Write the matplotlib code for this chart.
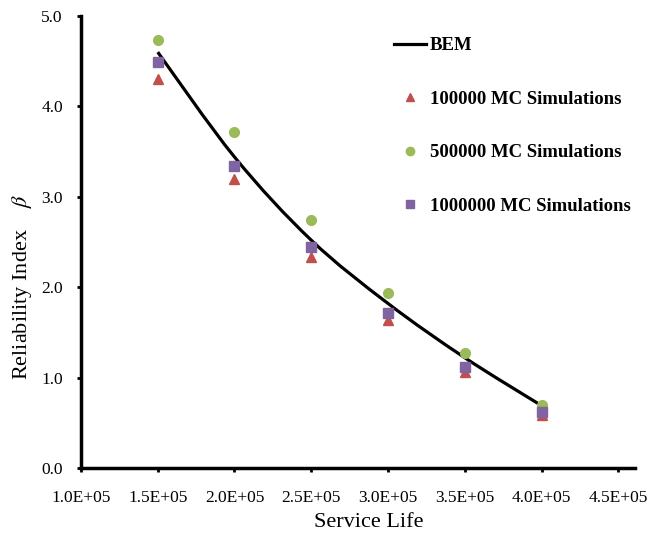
import numpy as np
import matplotlib
matplotlib.use('Agg')
import matplotlib.pyplot as plt
from matplotlib.path import Path
from matplotlib.patches import PathPatch
from matplotlib.lines import Line2D

plt.rcParams['font.family'] = ['Liberation Serif', 'DejaVu Serif']
plt.rcParams['mathtext.fontset'] = 'stix'

# data
life = [1.5e5, 2.0e5, 2.5e5, 3.0e5, 3.5e5, 4.0e5]
bem = [4.60, 3.44, 2.52, 1.82, 1.22, 0.69]
mc_100k = [4.30, 3.20, 2.33, 1.64, 1.06, 0.59]
mc_500k = [4.73, 3.72, 2.74, 1.94, 1.27, 0.70]
mc_1m = [4.49, 3.34, 2.44, 1.72, 1.12, 0.62]

xticks = [1.0e5, 1.5e5, 2.0e5, 2.5e5, 3.0e5, 3.5e5, 4.0e5, 4.5e5]
xtick_labels = ['1.0E+05', '1.5E+05', '2.0E+05', '2.5E+05', '3.0E+05', '3.5E+05', '4.0E+05', '4.5E+05']
yticks = [0.0, 1.0, 2.0, 3.0, 4.0, 5.0]

red, green, purple = '#C0504D', '#9BBB59', '#8064A2'

fig = plt.figure(figsize=(6.52, 5.35), dpi=100)
ax = fig.add_axes([0.1242, 0.1252, 0.850, 0.845])

# smooth line through the BEM points (Catmull-Rom as bezier segments)
pts = np.column_stack([life, bem])
verts = [pts[0]]
codes = [Path.MOVETO]
n = len(pts)
for i in range(n - 1):
    p0 = pts[max(i - 1, 0)]
    p1 = pts[i]
    p2 = pts[i + 1]
    p3 = pts[min(i + 2, n - 1)]
    c1 = p1 + (p2 - p0) / 6.0
    c2 = p2 - (p3 - p1) / 6.0
    verts += [c1, c2, p2]
    codes += [Path.CURVE4] * 3
ax.add_patch(PathPatch(Path(verts, codes), fill=False, color='black', lw=2.3, zorder=2))

ax.plot(life, mc_100k, '^', color=red, ms=7, mec=red, zorder=3)
ax.plot(life, mc_500k, 'o', color=green, ms=7, mec=green, zorder=3)
ax.plot(life, mc_1m, 's', color=purple, ms=7, mec=purple, zorder=4)

ax.set_xlim(1.0e5, 4.61e5)
ax.set_ylim(0, 5.0)
ax.set_xticks(xticks)
ax.set_xticklabels(xtick_labels)
ax.set_yticks(yticks)
ax.set_yticklabels([f'{v:.1f}' for v in yticks])
ax.tick_params(direction='out', length=3, width=2, labelsize=12.5)
ax.tick_params(axis='x', pad=13)
ax.tick_params(axis='y', pad=10)

for s in ['top', 'right']:
    ax.spines[s].set_visible(False)
for s in ['left', 'bottom']:
    ax.spines[s].set_linewidth(2.5)

ax.set_xlabel('Service Life', fontsize=16, labelpad=5)
ax.xaxis.label.set_x(0.52)
ax.set_ylabel(r'Reliability Index    $\beta$', fontsize=16, labelpad=5)
ax.yaxis.label.set_y(0.40)

handles = [
    Line2D([], [], color='black', lw=2.3),
    Line2D([], [], ls='none', marker='^', color=red, ms=6),
    Line2D([], [], ls='none', marker='o', color=green, ms=6),
    Line2D([], [], ls='none', marker='s', color=purple, ms=6),
]
labels = ['BEM', '100000 MC Simulations', '500000 MC Simulations', '1000000 MC Simulations']
ax.legend(handles, labels, loc='upper left', bbox_to_anchor=(0.535, 0.99),
          frameon=False, prop={'weight': 'bold', 'size': 13.5},
          labelspacing=1.94, handlelength=1.7, handletextpad=0.2)

fig.savefig('out.png', dpi=100)
